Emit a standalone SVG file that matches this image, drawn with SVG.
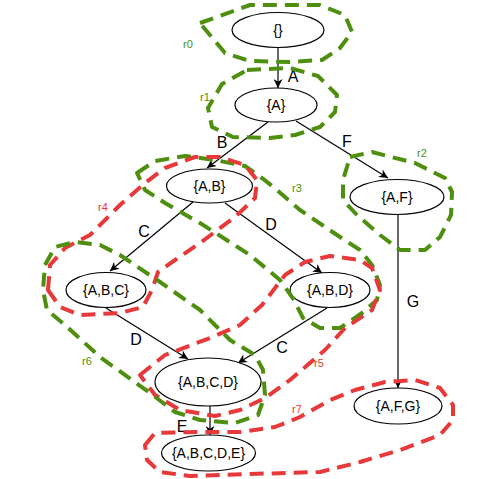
<svg xmlns="http://www.w3.org/2000/svg" width="488" height="479" viewBox="0 0 488 479">
<style>
.node ellipse{fill:#fff;stroke:#000;stroke-width:1.2}
.node text{font-family:"Liberation Sans",Arial,sans-serif;font-size:14px;text-anchor:middle;fill:#000}
.edge line{stroke:#000;stroke-width:1.2;marker-end:url(#arr)}
.elabel{font-family:"Liberation Sans",Arial,sans-serif;font-size:16px;text-anchor:middle;fill:#000}
.reg{fill:none;stroke-width:4;stroke-dasharray:14 8;stroke-linejoin:round}
.g{stroke:#4e8f10}
.r{stroke:#e8393a}
.rl{font-family:"Liberation Sans",Arial,sans-serif;font-size:11px;text-anchor:middle}
.rlg{fill:#4e8f10}
.rlr{fill:#e8393a}
</style>
<defs>
<marker id="arr" viewBox="0 0 10 10" refX="10" refY="5" markerWidth="9" markerHeight="9" orient="auto" markerUnits="userSpaceOnUse">
<path d="M0,0 L10,5 L0,10 L3,5 Z" fill="#000"/>
</marker>
</defs>
<g id="edges" class="edge">
<line x1="278" y1="48" x2="278" y2="88"/>
<line x1="268" y1="122" x2="207" y2="168"/>
<line x1="296" y1="121" x2="388" y2="178"/>
<line x1="193" y1="202" x2="110" y2="271"/>
<line x1="225" y1="203" x2="322" y2="273"/>
<line x1="106" y1="308" x2="188" y2="359"/>
<line x1="327" y1="308" x2="238" y2="363"/>
<line x1="210" y1="406" x2="210" y2="435"/>
<line x1="398" y1="215" x2="398" y2="388"/>
<text class="elabel" x="293" y="82">A</text>
<text class="elabel" x="222" y="148">B</text>
<text class="elabel" x="347" y="147">F</text>
<text class="elabel" x="144" y="237">C</text>
<text class="elabel" x="271" y="230">D</text>
<text class="elabel" x="136" y="345">D</text>
<text class="elabel" x="282" y="353">C</text>
<text class="elabel" x="182" y="432">E</text>
<text class="elabel" x="413" y="307">G</text>
</g>
<g id="n0" class="node"><ellipse cx="278" cy="30" rx="46" ry="17.5"/><text x="278" y="35">{}</text></g>
<g id="n1" class="node"><ellipse cx="276" cy="105" rx="41" ry="17"/><text x="276" y="110">{A}</text></g>
<g id="n2" class="node"><ellipse cx="209.5" cy="186" rx="43" ry="17"/><text x="209.5" y="191">{A,B}</text></g>
<g id="n3" class="node"><ellipse cx="397" cy="197" rx="47" ry="17.5"/><text x="397" y="202">{A,F}</text></g>
<g id="n4" class="node"><ellipse cx="106" cy="290" rx="40" ry="17.5"/><text x="106" y="295">{A,B,C}</text></g>
<g id="n5" class="node"><ellipse cx="330" cy="290" rx="40" ry="17.5"/><text x="330" y="295">{A,B,D}</text></g>
<g id="n6" class="node"><ellipse cx="208" cy="382" rx="53" ry="24"/><text x="208" y="387">{A,B,C,D}</text></g>
<g id="n7" class="node"><ellipse cx="208.5" cy="453" rx="47" ry="18"/><text x="208.5" y="458">{A,B,C,D,E}</text></g>
<g id="n8" class="node"><ellipse cx="398" cy="406" rx="44" ry="18"/><text x="398" y="411">{A,F,G}</text></g>
<g id="regions">
<g id="r0"><path class="reg g" d="M200,23 L250,5 L320,5 L345,15 L352,32 L340,48 L322,60 L290,62 L250,61 L225,53 Z"/><text class="rl rlg" x="188" y="48">r0</text></g>
<g id="r1"><path class="reg g" d="M247,70 L290,68 L318,76 L337,95 L335,112 L320,127 L295,135 L270,138 L233,137 L212,127 L208,108 L222,84 Z"/><text class="rl rlg" x="205" y="101">r1</text></g>
<g id="r2"><path class="reg g" d="M350,157 L372,152 L415,163 L445,178 L452,192 L451,215 L440,237 L425,250 L400,250 L380,235 L357,215 L343,200 L343,180 Z"/><text class="rl rlg" x="422" y="157">r2</text></g>
<g id="r3"><path class="reg g" d="M137,173 L155,161 L185,156 L215,160 L245,166 L262,178 L277,190 L300,210 L340,237 L360,250 L372,265 L380,285 L377,300 L362,313 L340,328 L320,328 L303,318 L294,300 L280,280 L250,255 L200,223 L165,203 L145,190 Z"/><text class="rl rlg" x="297" y="192">r3</text></g>
<g id="r4"><path class="reg r" d="M48,290 L50,265 L65,248 L90,235 L120,205 L145,183 L165,168 L195,157 L220,157 L245,165 L257,180 L255,198 L235,217 L200,243 L175,260 L158,272 L152,290 L143,307 L120,313 L80,315 L60,307 Z"/><text class="rl rlr" x="103" y="211">r4</text></g>
<g id="r5"><path class="reg r" d="M140,375 L165,355 L210,338 L240,325 L262,305 L285,275 L305,262 L330,256 L360,260 L372,268 L380,290 L372,310 L345,328 L325,350 L290,380 L265,398 L240,410 L215,416 L180,410 L155,395 Z"/><text class="rl rlr" x="319" y="367">r5</text></g>
<g id="r6"><path class="reg g" d="M45,265 L55,247 L75,242 L100,245 L120,255 L160,282 L200,310 L230,340 L255,355 L263,370 L265,395 L258,415 L235,423 L200,420 L175,412 L150,393 L100,357 L65,325 L47,310 L43,290 Z"/><text class="rl rlg" x="87" y="365">r6</text></g>
<g id="r7"><path class="reg r" d="M145,445 L155,433 L200,432 L240,432 L275,427 L300,417 L330,400 L355,390 L385,382 L415,380 L440,388 L453,405 L453,420 L440,435 L400,450 L360,462 L320,472 L250,474 L190,476 L160,472 L147,460 Z"/><text class="rl rlr" x="297" y="413">r7</text></g>
</g>
</svg>
